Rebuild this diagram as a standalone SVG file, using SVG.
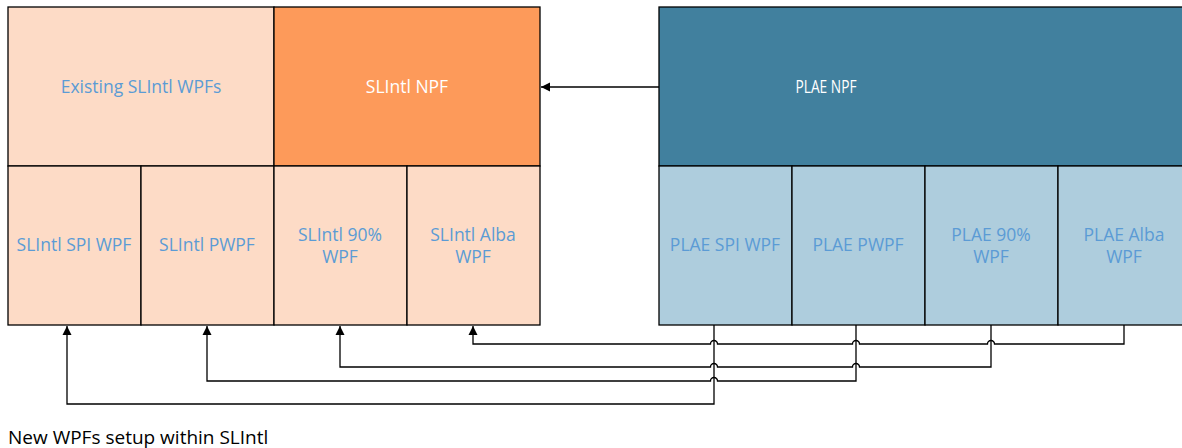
<svg xmlns="http://www.w3.org/2000/svg" width="1182" height="448" viewBox="0 0 1182 448">
<style>
.box{stroke:#000;stroke-width:1.3}
.peach{fill:#fddbc6}
.orange{fill:#fd9a5a}
.teal{fill:#41809e}
.lblue{fill:#aecddd}
.t{font-family:"Open Sans","Noto Sans",sans-serif;font-size:17.5px;text-anchor:middle;fill:#5b9bd5}
.w{fill:#ffffff}
.cap{font-family:"Open Sans","Noto Sans",sans-serif;font-size:19px;fill:#000}
.c{fill:none;stroke:#000;stroke-width:1.3}
</style>
<defs>
<marker id="ah" markerWidth="10" markerHeight="10" refX="9" refY="5" orient="auto" markerUnits="userSpaceOnUse">
<path d="M0,0.5 L9,5 L0,9.5 Z" fill="#000"/>
</marker>
</defs>
<g id="existing-slintl-wpfs"><rect class="box peach" x="8" y="7" width="266" height="159"/><text class="t" x="141" y="93">Existing SLIntl WPFs</text></g>
<g id="slintl-npf"><rect class="box orange" x="274" y="7" width="266" height="159"/><text class="t w" x="407" y="93">SLIntl NPF</text></g>
<g id="slintl-spi-wpf"><rect class="box peach" x="8" y="166" width="133" height="159"/><text class="t" x="74" y="251">SLIntl SPI WPF</text></g>
<g id="slintl-pwpf"><rect class="box peach" x="141" y="166" width="133" height="159"/><text class="t" x="207" y="251">SLIntl PWPF</text></g>
<g id="slintl-90-wpf"><rect class="box peach" x="274" y="166" width="133" height="159"/><text class="t" x="340" y="241">SLIntl 90%</text><text class="t" x="340" y="263">WPF</text></g>
<g id="slintl-alba-wpf"><rect class="box peach" x="407" y="166" width="133" height="159"/><text class="t" x="473" y="241">SLIntl Alba</text><text class="t" x="473" y="263">WPF</text></g>
<g id="plae-npf"><rect class="box teal" x="659" y="7" width="532" height="159"/><text class="t w" x="826" y="93" textLength="61" lengthAdjust="spacingAndGlyphs">PLAE NPF</text></g>
<g id="plae-spi-wpf"><rect class="box lblue" x="659" y="166" width="133" height="159"/><text class="t" x="725" y="251">PLAE SPI WPF</text></g>
<g id="plae-pwpf"><rect class="box lblue" x="792" y="166" width="133" height="159"/><text class="t" x="858" y="251">PLAE PWPF</text></g>
<g id="plae-90-wpf"><rect class="box lblue" x="925" y="166" width="133" height="159"/><text class="t" x="991" y="241">PLAE 90%</text><text class="t" x="991" y="263">WPF</text></g>
<g id="plae-alba-wpf"><rect class="box lblue" x="1058" y="166" width="133" height="159"/><text class="t" x="1124" y="241">PLAE Alba</text><text class="t" x="1124" y="263">WPF</text></g>
<g id="connectors">
<path class="c" d="M659,87 H541" marker-end="url(#ah)"/>
<path class="c" d="M1124,325 V344 H994.5 A3.5,3.5 0 0 0 987.5,344 H859.5 A3.5,3.5 0 0 0 852.5,344 H717.5 A3.5,3.5 0 0 0 710.5,344 H473 V326" marker-end="url(#ah)"/>
<path class="c" d="M991,325 V367 H859.5 A3.5,3.5 0 0 0 852.5,367 H717.5 A3.5,3.5 0 0 0 710.5,367 H340 V326" marker-end="url(#ah)"/>
<path class="c" d="M856,325 V381 H717.5 A3.5,3.5 0 0 0 710.5,381 H207 V326" marker-end="url(#ah)"/>
<path class="c" d="M714,325 V404 H67 V326" marker-end="url(#ah)"/>
</g>
<text class="cap" x="8" y="444">New WPFs setup within SLIntl</text>
</svg>
